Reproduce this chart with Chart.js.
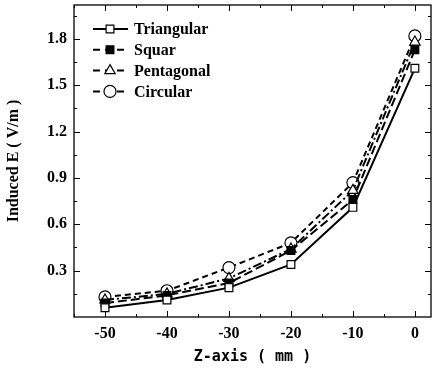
<!DOCTYPE html>
<html>
<head>
<meta charset="utf-8">
<script src="https://cdn.jsdelivr.net/npm/chart.js@4"></script>
<style>
  html, body { margin: 0; padding: 0; background: #fff; overflow: hidden; }
  #wrap { width: 433px; height: 370px; }
</style>
</head>
<body>
<div id="wrap"><canvas id="chart"></canvas></div>
<script>
// data
const zPos = [-50, -40, -30, -20, -10, 0];
const triangular = [0.06, 0.11, 0.19, 0.34, 0.71, 1.61];
const squar = [0.09, 0.14, 0.22, 0.43, 0.76, 1.73];
const pentagonal = [0.11, 0.15, 0.25, 0.44, 0.82, 1.78];
const circular = [0.13, 0.17, 0.32, 0.48, 0.87, 1.82];
const xTicks = [-50, -40, -30, -20, -10, 0];
const yTicks = [0.3, 0.6, 0.9, 1.2, 1.5, 1.8];

const FONT = "'Liberation Serif', 'Times New Roman', serif";

function pts(arr) {
  return zPos.map((x, i) => ({ x: x, y: arr[i] }));
}

function series(label, arr, dash, style, fill, r) {
  return {
    label: label,
    data: pts(arr),
    borderColor: "#000",
    borderWidth: 2,
    borderDash: dash,
    pointStyle: style,
    pointRadius: r,
    pointBackgroundColor: fill,
    pointBorderColor: "#000",
    pointBorderWidth: 1.2,
    tension: 0,
  };
}

const datasets = [
  series("Triangular", triangular, [], "rect", "#fff", 5.5),
  series("Squar", squar, [9, 4], "rect", "#000", 5.5),
  series("Pentagonal", pentagonal, [9, 3, 2, 3], "triangle", "#fff", 6),
  series("Circular", circular, [6, 4], "circle", "#fff", 6),
];

// inward ticks on all four sides + legend inside the plot
const framePlugin = {
  id: "frame",
  afterDraw(chart) {
    const ctx = chart.ctx;
    const a = chart.chartArea;
    const xs = chart.scales.x;
    const ys = chart.scales.y;
    ctx.save();
    ctx.strokeStyle = "#000";
    ctx.lineWidth = 1.3;
    ctx.strokeRect(a.left, a.top, a.right - a.left, a.bottom - a.top);
    ctx.lineWidth = 1;
    ctx.beginPath();
    for (let v = -55; v <= 2; v += 5) {
      const px = Math.round(xs.getPixelForValue(v)) + 0.5;
      const len = v % 10 === 0 ? 6 : 3;
      ctx.moveTo(px, a.bottom); ctx.lineTo(px, a.bottom - len);
      ctx.moveTo(px, a.top); ctx.lineTo(px, a.top + len);
    }
    for (let k = 1; k <= 13; k++) {
      const v = k * 0.15;
      const py = Math.round(ys.getPixelForValue(v)) + 0.5;
      const len = k % 2 === 0 ? 6 : 3;
      ctx.moveTo(a.left, py); ctx.lineTo(a.left + len, py);
      ctx.moveTo(a.right, py); ctx.lineTo(a.right - len, py);
    }
    ctx.stroke();

    // legend
    const lx = a.left + 19;
    let ly = a.top + 24;
    ctx.font = "bold 16px " + FONT;
    ctx.textBaseline = "middle";
    chart.data.datasets.forEach((ds) => {
      ctx.strokeStyle = "#000";
      ctx.lineWidth = 2;
      ctx.setLineDash(ds.borderDash.length ? [7, 5] : []);
      ctx.beginPath();
      ctx.moveTo(lx, ly);
      ctx.lineTo(lx + 35, ly);
      ctx.stroke();
      ctx.setLineDash([]);
      ctx.fillStyle = ds.pointBackgroundColor;
      ctx.lineWidth = 1.2;
      Chart.helpers.drawPoint(ctx, {
        pointStyle: ds.pointStyle,
        radius: ds.pointRadius,
        borderWidth: 1.2,
        rotation: 0,
      }, lx + 17, ly);
      ctx.fillStyle = "#000";
      ctx.fillText(ds.label, lx + 41, ly + 1);
      ly += 20.8;
    });
    ctx.restore();
  },
};

new Chart(document.getElementById("chart"), {
  type: "line",
  data: { datasets: datasets },
  options: {
    responsive: true,
    maintainAspectRatio: false,
    animation: false,
    layout: { autoPadding: false, padding: { top: 5, right: 2, left: 0, bottom: 0 } },
    plugins: {
      legend: { display: false },
      tooltip: { enabled: false },
    },
    scales: {
      x: {
        type: "linear",
        min: -55,
        max: 2.6,
        afterBuildTicks: (s) => { s.ticks = xTicks.map((v) => ({ value: v })); },
        afterFit: (s) => {
          s.height = 53;
          s.paddingLeft = 0;
          s.paddingRight = 0;
        },
        grid: { display: false, drawTicks: false },
        border: { display: false },
        ticks: {
          color: "#000",
          padding: 7,
          font: { family: FONT, size: 16, weight: "bold" },
        },
        title: {
          display: true,
          text: "Z-axis ( mm )",
          color: "#000",
          padding: { top: 2 },
          font: { family: "'DejaVu Sans Mono', monospace", size: 15, weight: "bold" },
        },
      },
      y: {
        type: "linear",
        min: 0,
        max: 2.02,
        afterBuildTicks: (s) => { s.ticks = yTicks.map((v) => ({ value: v })); },
        afterFit: (s) => {
          s.width = 74;
          s.paddingTop = 0;
          s.paddingBottom = 0;
        },
        grid: { display: false, drawTicks: false },
        border: { display: false },
        ticks: {
          color: "#000",
          padding: 7,
          callback: (v) => v.toFixed(1),
          font: { family: FONT, size: 16, weight: "bold" },
        },
        title: {
          display: true,
          text: "Induced E ( V/m )",
          color: "#000",
          font: { family: FONT, size: 16, weight: "bold" },
        },
      },
    },
  },
  plugins: [framePlugin],
});
</script>
</body>
</html>
